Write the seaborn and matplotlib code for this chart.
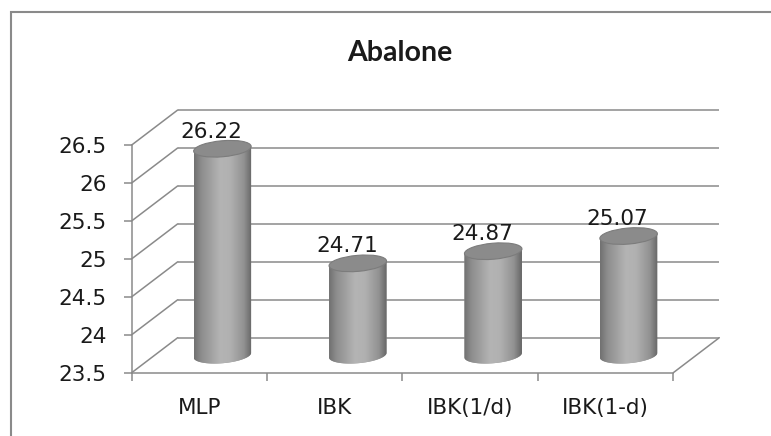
#!/usr/bin/env python3
"""
Abalone: error of four methods, drawn as an Excel-style 3D cylinder chart.
"""

import numpy as np
import matplotlib
matplotlib.use("Agg")
import matplotlib.pyplot as plt
import seaborn as sns
from matplotlib.patches import Ellipse, PathPatch, Rectangle
from matplotlib.path import Path
from matplotlib.colors import LinearSegmentedColormap
from matplotlib.transforms import IdentityTransform

title = "Abalone"
methods = ["MLP", "IBK", "IBK(1/d)", "IBK(1-d)"]
scores = [26.22, 24.71, 24.87, 25.07]
y_ticks = [23.5, 24, 24.5, 25, 25.5, 26, 26.5]
y_tick_labels = ["23.5", "24", "24.5", "25", "25.5", "26", "26.5"]

W, H = 771, 436
# front plane of the box in pixels: left, bottom, width, height
L, B, AW, AH = 131.7, 63.3, 541.6, 227.7
DX, DY = 46, 35      # depth of the box in pixels
PAD = 20             # room under the mid plane for the round cylinder bottoms
TILT = 5             # tilt of the cylinder ends (degrees)
ELL_B = 8            # half height of the cylinder ends (px)
FS = 15.5

ymin, ymax = y_ticks[0], y_ticks[-1]
ppu = AH / (ymax - ymin)      # pixels per y unit
ppc = AW / len(methods)       # pixels per category
grid_c = "#8a8a8a"
text_c = "#1a1a1a"

sns.set_style("white")
plt.rcParams["font.family"] = ["DejaVu Sans"]

fig = plt.figure(figsize=(W / 100, H / 100), dpi=100)


def plane_axes(sx, sy, pad=0, z=0):
    """Axes with the same scale as the front plane, shifted by (sx, sy) px."""
    a = fig.add_axes([(L + sx) / W, (B + sy - pad) / H, AW / W, (AH + 2 * pad) / H],
                     zorder=z)
    a.set_xlim(-0.5, len(methods) - 0.5)
    a.set_ylim(ymin - pad / ppu, ymax + pad / ppu)
    a.set_facecolor("none")
    return a


# back wall gridlines
ax_back = plane_axes(DX, DY, z=0)
ax_back.axis("off")
ax_back.hlines(y_ticks, -0.5, len(methods) - 0.5, color=grid_c, lw=1.1, clip_on=False)

# front plane: axes, ticks, left wall and floor edges
ax = plane_axes(0, 0, z=1)
sns.despine(ax=ax)
for side in ["left", "bottom"]:
    ax.spines[side].set_color(grid_c)
    ax.spines[side].set_linewidth(1.1)
ax.set_yticks(y_ticks, y_tick_labels)
ax.set_xticks(np.arange(len(methods) + 1) - 0.5, [""] * (len(methods) + 1))
ax.set_xticks(range(len(methods)), methods, minor=True)
ax.tick_params(axis="both", which="major", length=6, width=1.1, color=grid_c,
               labelsize=FS, labelcolor=text_c, bottom=True, left=True)
ax.tick_params(axis="y", pad=12)
ax.tick_params(axis="x", which="minor", length=0, pad=18, labelsize=FS,
               labelcolor=text_c, bottom=True)
ddx, ddy = DX / ppc, DY / ppu
for t in y_ticks:
    ax.plot([-0.5, -0.5 + ddx], [t, t + ddy], color=grid_c, lw=1.1, clip_on=False)
ax.plot([len(methods) - 0.5, len(methods) - 0.5 + ddx], [ymin, ymin + ddy],
        color=grid_c, lw=1.1, clip_on=False)

# cylinders on the mid-depth plane
ax_mid = plane_axes(DX / 2, DY / 2, pad=PAD, z=2)
sns.barplot(x=methods, y=scores, ax=ax_mid, width=0.426, color="#9a9a9a",
            saturation=1, linewidth=0, errorbar=None)

cyl_cmap = LinearSegmentedColormap.from_list(
    "cyl", [(0.0, "#707070"), (0.12, "#8c8c8c"), (0.45, "#b4b4b4"),
            (0.62, "#b1b1b1"), (0.86, "#929292"), (1.0, "#666666")])
grad = np.linspace(0, 1, 256).reshape(1, -1)
th = np.deg2rad(TILT)

for p, v in zip(ax_mid.patches, scores):
    x0, w, top = p.get_x(), p.get_width(), p.get_height()
    lx, ty = ax_mid.transData.transform((x0, top))
    rx, fy = ax_mid.transData.transform((x0 + w, ymin))
    cx, a = (lx + rx) / 2, (rx - lx) / 2

    # body outline: sides plus lower half of the bottom ellipse
    t = np.linspace(0, -np.pi, 60)
    bx = cx + a * np.cos(t) * np.cos(th) - ELL_B * np.sin(t) * np.sin(th)
    by = fy + a * np.cos(t) * np.sin(th) + ELL_B * np.sin(t) * np.cos(th)
    verts = [(cx - a * np.cos(th), fy - a * np.sin(th)),
             (cx - a * np.cos(th), ty - a * np.sin(th)),
             (cx + a * np.cos(th), ty + a * np.sin(th))]
    verts += list(zip(bx, by))
    verts.append(verts[0])
    body = PathPatch(Path(verts, closed=True), transform=IdentityTransform())
    p.set_clip_path(body)

    im = ax_mid.imshow(grad, cmap=cyl_cmap, aspect="auto", interpolation="bicubic",
                       extent=(x0, x0 + w, ymin - PAD / ppu, top + 0.2), zorder=3)
    im.set_clip_path(body)

    ax_mid.add_patch(Ellipse((cx, ty), 2 * a, 2 * ELL_B, angle=TILT,
                             transform=IdentityTransform(), fc="#8b8b8b",
                             ec="#7c7c7c", lw=0.8, zorder=4))
    ax_mid.annotate(f"{v:.2f}", (x0 + w / 2, top), xytext=(-11, 11),
                    textcoords="offset pixels", ha="center", va="baseline",
                    fontsize=FS, color=text_c, zorder=5)

ax_mid.set_xlim(-0.5, len(methods) - 0.5)
ax_mid.set_ylim(ymin - PAD / ppu, ymax + PAD / ppu)
ax_mid.axis("off")

# chart frame and title
fig.add_artist(Rectangle((10.5 / W, -0.05), 1.1, (H - 12.3) / H + 0.05,
                         transform=fig.transFigure, fill=False, ec=grid_c, lw=1.5))
fig.text(400 / W, (H - 53) / H, title, ha="center", va="center", fontsize=20.5,
         fontweight="bold", color=text_c, family=["Lato", "DejaVu Sans"])

fig.savefig("out.png", dpi=100)
